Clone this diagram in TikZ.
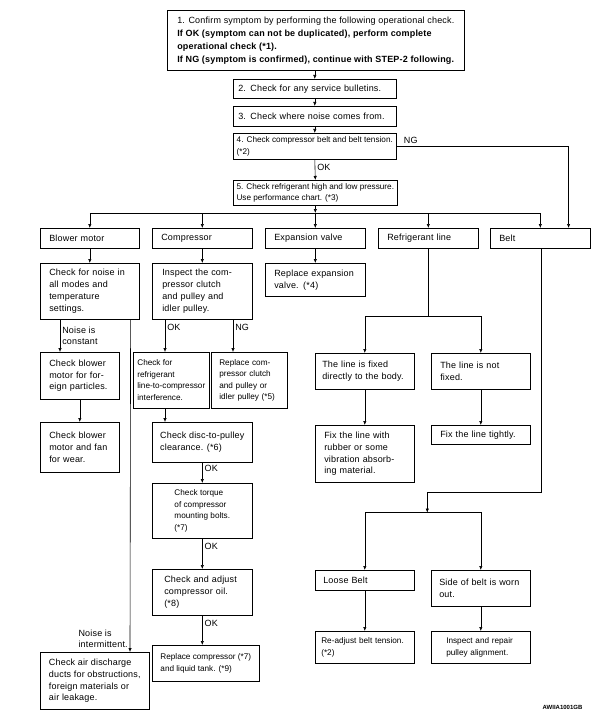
\documentclass[tikz,border=0pt]{standalone}
\usepackage{fontspec}
\setmainfont{Liberation Sans}
\newfontfamily\widefont[LetterSpace=2]{Liberation Sans}
\usetikzlibrary{arrows.meta}
\newcommand{\wide}{\widefont\fontsize{9}{11.8}\selectfont}
\newcommand{\nar}{\fontsize{8.2}{11.5}\selectfont}

\begin{document}
\begin{tikzpicture}[x=1pt, y=-1pt, >={Latex[length=4pt,width=3.4pt]}, line width=0.6pt,
  blk/.style={draw, anchor=north west, align=left, inner xsep=9pt, inner ysep=1pt, font=\wide},
  lbl/.style={font=\wide, inner sep=2pt}]
\useasboundingbox (0,0) rectangle (598,722);

\node[blk, inner xsep=0pt, minimum width=297pt, minimum height=60pt, font=\widefont\fontsize{9}{13}\selectfont] (s1) at (167,10)
  {1. Confirm symptom by performing the following operational check.\\
   \textbf{If OK (symptom can not be duplicated), perform complete}\\
   \textbf{operational check (*1).}\\
   \textbf{If NG (symptom is confirmed), continue with STEP-2 following.}};
\node[blk, inner xsep=5pt, text width=153pt, minimum height=19pt] (s2) at (233,79) {2. Check for any service bulletins.};
\node[blk, inner xsep=5pt, text width=153pt, minimum height=20pt] (s3) at (233,106) {3. Check where noise comes from.};
\node[blk, inner xsep=0pt, minimum width=163pt, minimum height=26pt, font=\nar] (s4) at (233,133) {4. Check compressor belt and belt tension.\\(*2)};
\node[blk, inner xsep=0pt, minimum width=164pt, minimum height=25pt, font=\nar] (s5) at (233,180) {5. Check refrigerant high and low pressure.\\Use performance chart. (*3)};

\node[blk, text width=81pt, minimum height=20pt] (bm) at (40,228) {Blower motor};
\node[blk, text width=82pt, minimum height=20pt] (comp) at (152,228) {Compressor};
\node[blk, text width=82pt, minimum height=20pt] (ev) at (265,228) {Expansion valve};
\node[blk, text width=82pt, minimum height=20pt] (rl) at (378,228) {Refrigerant line};
\node[blk, text width=82pt, minimum height=20pt] (belt) at (490,228) {Belt};

\node[blk, text width=81pt, minimum height=56pt] (noise) at (40,263) {Check for noise in\\all modes and\\temperature\\settings.};
\node[blk, text width=61pt, minimum height=47pt] (fp) at (40,352) {Check blower\\motor for for-\\eign particles.};
\node[blk, text width=61pt, minimum height=50pt] (wear) at (40,422) {Check blower\\motor and fan\\for wear.};
\node[blk, inner xsep=0pt, minimum width=109pt, minimum height=57pt] (air) at (40,652) {Check air discharge\\ducts for obstructions,\\foreign materials or\\air leakage.};

\node[blk, inner xsep=10pt, text width=80pt, minimum height=56pt] (insp) at (152,263) {Inspect the com-\\pressor clutch\\and pulley and\\idler pulley.};
\node[blk, inner xsep=0pt, minimum width=76pt, minimum height=56pt, font=\nar] (chkref) at (133,352) {Check for\\refrigerant\\line-to-compressor\\interference.};
\node[blk, inner xsep=8pt, text width=60pt, minimum height=56pt, font=\nar] (repcl) at (211,352) {Replace com-\\pressor clutch\\and pulley or\\idler pulley (*5)};
\node[blk, inner xsep=0pt, minimum width=100pt, minimum height=40pt] (disc) at (152,422) {Check disc-to-pulley\\clearance. (*6)};
\node[blk, inner xsep=0pt, minimum width=100pt, minimum height=55pt, font=\nar] (torque) at (152,483) {Check torque\\of compressor\\mounting bolts.\\(*7)};
\node[blk, inner xsep=12pt, text width=76pt, minimum height=46pt] (adj) at (152,569) {Check and adjust\\compressor oil.\\(*8)};
\node[blk, inner xsep=0pt, minimum width=107pt, minimum height=36pt, font=\nar] (repc) at (152,645) {Replace compressor (*7)\\and liquid tank. (*9)};

\node[blk, text width=82pt, minimum height=33pt] (rev) at (265,263) {Replace expansion\\valve. (*4)};

\node[blk, inner xsep=7pt, text width=85pt, minimum height=36pt] (fixed) at (315,353) {The line is fixed\\directly to the body.};
\node[blk, text width=81pt, minimum height=36pt] (notfixed) at (431,353) {The line is not\\fixed.};
\node[blk, text width=81pt, minimum height=57pt] (fixrub) at (315,425) {Fix the line with\\rubber or some\\vibration absorb-\\ing material.};
\node[blk, text width=81pt, minimum height=19pt] (fixtight) at (431,425) {Fix the line tightly.};

\node[blk, inner xsep=8pt, text width=83pt, minimum height=20pt] (loose) at (315,570) {Loose Belt};
\node[blk, inner xsep=8pt, text width=83pt, minimum height=36pt] (worn) at (431,570) {Side of belt is worn\\out.};
\node[blk, inner xsep=6pt, text width=87pt, minimum height=32pt, font=\nar] (readj) at (315,631) {Re-adjust belt tension.\\(*2)};
\node[blk, inner xsep=15pt, text width=69pt, minimum height=32pt, font=\nar] (insprep) at (431,631) {Inspect and repair\\pulley alignment.};

\node[font=\bfseries\fontsize{6}{7}\selectfont, anchor=east] (code) at (586,707) {AWIIA1001GB};

\draw[->] (s2.north |- s1.south) -- (s2.north);
\draw[->] (s2.south) -- (s3.north);
\draw[->] (s3.south) -- (s4.north);
\draw[->] (s4.south) -- node[lbl, right, pos=0.4] {OK} (s5.north);
\draw[->] (s4.east) node[lbl, above right, xshift=5pt] {NG} -| ([xshift=-22pt]belt.north east);

\coordinate (bus) at (0,213);
\draw[->] (s5.south) -- (s5.south |- bus);
\draw (bm.north |- bus) -- (belt.north |- bus);
\foreach \n in {bm,comp,ev,rl,belt} \draw[->] (\n.north |- bus) -- (\n.north);

\draw[->] (bm.south) -- (noise.north);
\draw[->] ([xshift=20pt]noise.south west) -- node[lbl, right, align=left] {Noise is\\constant} ([xshift=20pt]fp.north west);
\draw[->] ([xshift=-9pt]noise.south east) -- node[lbl, left, align=left, pos=0.96] {Noise is\\intermittent.} ([xshift=90pt]air.north west);
\draw[->] (fp.south) -- (wear.north);

\draw[->] (comp.south) -- (insp.north);
\draw[->] ([xshift=13pt]insp.south west) -- node[lbl, right, pos=0.25] {OK} ([xshift=32pt]chkref.north west);
\draw[->] ([xshift=81pt]insp.south west) -- node[lbl, right, pos=0.25] {NG} ([xshift=22pt]repcl.north west);
\draw[->] ([xshift=32pt]chkref.south west) -- ([xshift=13pt]disc.north west);
\draw[->] (disc.south) -- node[lbl, right, pos=0.3] {OK} (torque.north);
\draw[->] (torque.south) -- node[lbl, right, pos=0.25] {OK} (adj.north);
\draw[->] (adj.south) -- node[lbl, right, pos=0.25] {OK} (adj.south |- repc.north);

\draw[->] (ev.south) -- (rev.north);

\draw (rl.south) -- ++(0,68) coordinate (rlj);
\draw[->] (rlj) -| (fixed.north); \draw[->] (rlj) -| (notfixed.north);
\draw[->] (fixed.south) -- (fixrub.north);
\draw[->] (notfixed.south) -- (fixtight.north);

\draw[->] ([xshift=1pt]belt.south) -- ++(0,244) -| ++(-114,20) coordinate (bj);
\draw[->] (bj) -| (loose.north); \draw[->] (bj) -| (worn.north);
\draw[->] (loose.south) -- (readj.north);
\draw[->] (worn.south) -- (insprep.north);
\end{tikzpicture}
\end{document}
